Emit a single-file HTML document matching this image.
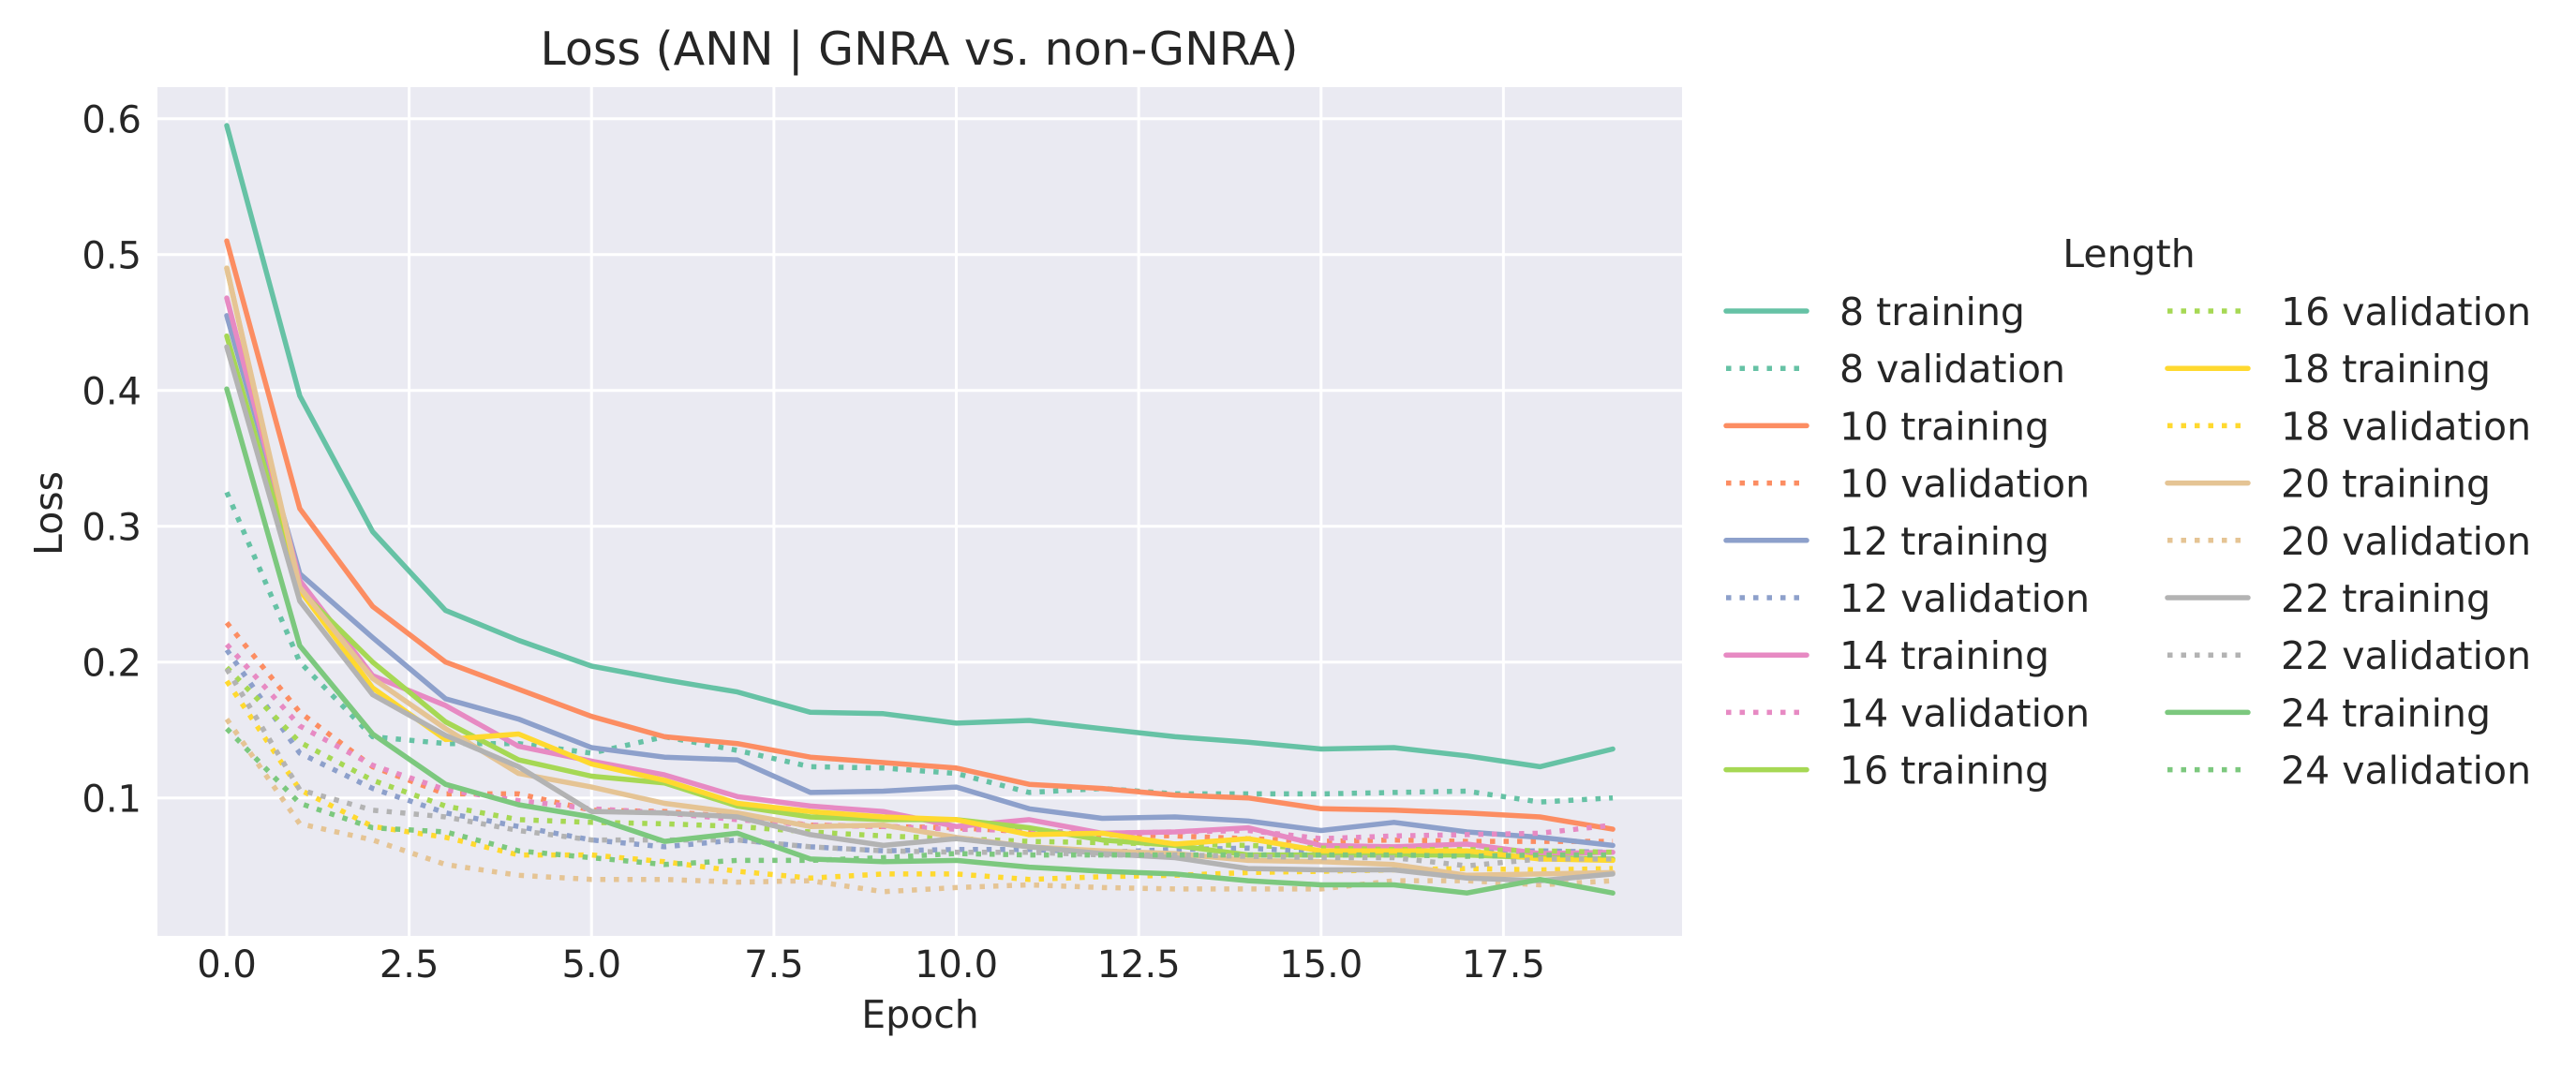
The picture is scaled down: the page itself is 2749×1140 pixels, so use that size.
<!DOCTYPE html>
<html><head><meta charset="utf-8">
<style>
html,body{margin:0;padding:0;background:#fff;}
svg{display:block;}
text{font-family:"DejaVu Sans","Liberation Sans",sans-serif;fill:#262626;}
</style></head>
<body>
<svg id="chart" width="2749" height="1140" viewBox="0 0 2749 1140">
<rect x="0" y="0" width="2749" height="1140" fill="#fff"/>
<rect x="168" y="93" width="1627" height="906" fill="#eaeaf2"/>
<g id="grid"></g>
<g id="series"></g>
<g id="ticks"></g>
<text x="981" y="69" font-size="49" text-anchor="middle">Loss (ANN | GNRA vs. non-GNRA)</text>
<text x="982" y="1097" font-size="41" text-anchor="middle">Epoch</text>
<text x="0" y="0" font-size="41" text-anchor="middle" transform="translate(66,548) rotate(-90)">Loss</text>
<g id="legend">
<text x="2272" y="285" font-size="41" text-anchor="middle">Length</text>
</g>
</svg>
<script>
const epochs = [0,1,2,3,4,5,6,7,8,9,10,11,12,13,14,15,16,17,18,19];
const xTicks = [0, 2.5, 5, 7.5, 10, 12.5, 15, 17.5];
const xTickLabels = ["0.0","2.5","5.0","7.5","10.0","12.5","15.0","17.5"];
const yTicks = [0.1, 0.2, 0.3, 0.4, 0.5, 0.6];
const yTickLabels = ["0.1","0.2","0.3","0.4","0.5","0.6"];
const seriesNames = ["8 training","8 validation","10 training","10 validation","12 training","12 validation","14 training","14 validation","16 training","16 validation","18 training","18 validation","20 training","20 validation","22 training","22 validation","24 training","24 validation"];
const t8 = [0.595,0.396,0.296,0.238,0.216,0.197,0.187,0.178,0.163,0.162,0.155,0.157,0.151,0.145,0.141,0.136,0.137,0.131,0.123,0.136];
const v8 = [0.325,0.2,0.145,0.14,0.14,0.133,0.145,0.135,0.123,0.122,0.118,0.104,0.107,0.103,0.103,0.103,0.104,0.105,0.097,0.1];
const t10 = [0.51,0.313,0.241,0.2,0.18,0.16,0.145,0.14,0.13,0.126,0.122,0.11,0.107,0.102,0.1,0.092,0.091,0.089,0.086,0.077];
const v10 = [0.229,0.163,0.123,0.103,0.103,0.091,0.09,0.086,0.08,0.079,0.078,0.075,0.073,0.072,0.07,0.068,0.069,0.068,0.068,0.068];
const t12 = [0.455,0.265,0.218,0.173,0.158,0.137,0.13,0.128,0.104,0.105,0.108,0.092,0.085,0.086,0.083,0.076,0.082,0.075,0.071,0.065];
const v12 = [0.209,0.133,0.107,0.089,0.079,0.069,0.064,0.069,0.064,0.061,0.062,0.062,0.06,0.062,0.063,0.06,0.062,0.06,0.061,0.06];
const t14 = [0.468,0.26,0.19,0.168,0.138,0.127,0.117,0.101,0.094,0.09,0.079,0.084,0.074,0.075,0.078,0.065,0.064,0.066,0.059,0.06];
const v14 = [0.213,0.153,0.124,0.106,0.098,0.092,0.089,0.084,0.08,0.079,0.077,0.076,0.074,0.075,0.076,0.07,0.072,0.073,0.074,0.08];
const t16 = [0.44,0.253,0.2,0.156,0.128,0.116,0.111,0.094,0.086,0.084,0.084,0.078,0.069,0.065,0.058,0.058,0.058,0.058,0.056,0.055];
const v16 = [0.196,0.141,0.113,0.094,0.084,0.082,0.081,0.079,0.075,0.072,0.07,0.068,0.067,0.066,0.065,0.063,0.062,0.062,0.061,0.06];
const t18 = [0.49,0.253,0.181,0.143,0.147,0.125,0.113,0.096,0.09,0.086,0.084,0.073,0.074,0.066,0.07,0.061,0.061,0.061,0.055,0.054];
const v18 = [0.186,0.106,0.079,0.071,0.058,0.058,0.053,0.046,0.041,0.044,0.044,0.04,0.042,0.043,0.045,0.046,0.047,0.048,0.047,0.048];
const t20 = [0.49,0.255,0.188,0.151,0.118,0.108,0.096,0.089,0.079,0.08,0.071,0.064,0.061,0.059,0.054,0.053,0.051,0.043,0.044,0.045];
const v20 = [0.158,0.081,0.069,0.051,0.043,0.04,0.04,0.038,0.039,0.031,0.034,0.036,0.034,0.033,0.033,0.033,0.039,0.039,0.036,0.039];
const t22 = [0.432,0.245,0.176,0.146,0.123,0.09,0.089,0.086,0.073,0.065,0.07,0.064,0.059,0.056,0.048,0.047,0.047,0.041,0.039,0.044];
const v22 = [0.195,0.106,0.091,0.086,0.076,0.069,0.069,0.069,0.064,0.061,0.06,0.06,0.058,0.058,0.057,0.056,0.056,0.05,0.055,0.055];
const t24 = [0.401,0.212,0.147,0.11,0.095,0.086,0.068,0.074,0.055,0.053,0.054,0.049,0.046,0.044,0.039,0.036,0.036,0.03,0.04,0.03];
const v24 = [0.151,0.096,0.078,0.075,0.061,0.056,0.051,0.054,0.054,0.056,0.059,0.058,0.058,0.058,0.058,0.058,0.058,0.057,0.058,0.058];
const seriesValues = [t8,v8,t10,v10,t12,v12,t14,v14,t16,v16,t18,v18,t20,v20,t22,v22,t24,v24];
const colors = ["#66c2a5","#fc8d62","#8da0cb","#e78ac3","#a6d854","#ffd92f","#e5c494","#b3b3b3","#7cc87e"];

const NS = "http://www.w3.org/2000/svg";
const X0 = 242, XS = 77.85;
const Y6 = 126.7, YS = 1450;
function xPos(v){ return X0 + v*XS; }
function yPos(v){ return Y6 + (0.6-v)*YS; }
function mk(tag, attrs, parent){
  const el = document.createElementNS(NS, tag);
  for (const k in attrs) el.setAttribute(k, attrs[k]);
  parent.appendChild(el);
  return el;
}
const grid = document.getElementById('grid');
const ticks = document.getElementById('ticks');
xTicks.forEach((t,i)=>{
  const l = mk('line',{x1:xPos(t),x2:xPos(t),y1:93,y2:999,stroke:'#fff','stroke-width':3},grid);
  
  
  const tx = mk('text',{x:xPos(t),y:1043,'font-size':40,'text-anchor':'middle'},ticks);
  tx.textContent = xTickLabels[i];
  
  
});
yTicks.forEach((t,i)=>{
  const l = mk('line',{x1:168,x2:1795,y1:yPos(t),y2:yPos(t),stroke:'#fff','stroke-width':3},grid);
  
  
  const tx = mk('text',{x:151,y:yPos(t)+15,'font-size':40,'text-anchor':'end'},ticks);
  tx.textContent = yTickLabels[i];
  
  
});
const sg = document.getElementById('series');
const legend = document.getElementById('legend');
seriesValues.forEach((vals,i)=>{
  const col = colors[Math.floor(i/2)];
  const dotted = i%2===1;
  const pts = vals.map((v,j)=>xPos(epochs[j]).toFixed(1)+','+yPos(v).toFixed(1)).join(' ');
  const attrs = {points:pts,fill:'none',stroke:col,'stroke-width':5.5,'stroke-linejoin':'round','stroke-linecap':dotted?'butt':'round'};
  if (dotted) attrs['stroke-dasharray'] = '5.5 9';
  const pl = mk('polyline',attrs,sg);
  
  
  const col2 = i>=9 ? 1 : 0;
  const row = i>=9 ? i-9 : i;
  const lx = col2 ? 2313 : 1842;
  const tx0 = col2 ? 2434 : 1963;
  const ly = 332 + row*61.2;
  const h = mk('line',{x1:lx,x2:lx+86,y1:ly,y2:ly,stroke:col,'stroke-width':5.5,'stroke-linecap':dotted?'butt':'round'},legend);
  if (dotted) h.setAttribute('stroke-dasharray','5.5 9');
  
  
  const t = mk('text',{x:tx0,y:ly+15,'font-size':41},legend);
  t.textContent = seriesNames[i];
  
  
});
</script>
</body></html>
